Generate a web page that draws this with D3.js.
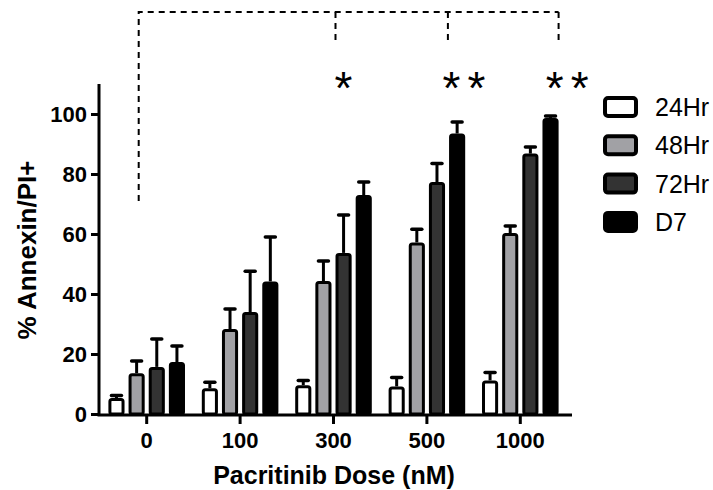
<!DOCTYPE html>
<html><head><meta charset="utf-8">
<script src="https://cdn.jsdelivr.net/npm/d3@7"></script>
<style>
body{margin:0;background:#fff;}
svg{display:block;}
text{font-family:"Liberation Sans",Arial,sans-serif;}
</style></head>
<body><svg id="c" width="713" height="490"></svg>
<script>
const doses = ["0","100","300","500","1000"];
const series = ["24Hr","48Hr","72Hr","D7"];
const colors = ["#ffffff","#a1a1a5","#333333","#000000"];
const v24 = [5.3, 8.6, 9.6, 9.2, 11.2];
const e24 = [6.2, 10.6, 11.2, 12.2, 13.8];
const v48 = [13.6, 28.3, 44.3, 57.2, 60.3];
const e48 = [17.7, 35.0, 51.0, 61.6, 62.7];
const v72 = [15.7, 34.0, 53.7, 77.3, 86.8];
const e72 = [25.0, 47.6, 66.3, 83.5, 89.0];
const vD7 = [17.3, 44.2, 73.0, 93.5, 98.7];
const eD7 = [22.7, 59.0, 77.3, 97.3, 99.3];
const yTicks = [0,20,40,60,80,100];
const sigLabels = [{dose:"300", text:"*"},{dose:"500", text:"**"},{dose:"1000", text:"**"}];

const vals = [v24,v48,v72,vD7], errs=[e24,e48,e72,eD7];
const svg = d3.select("#c");
const x0 = d3.scaleBand().domain(doses).range([100,567]).paddingInner(0.18).paddingOuter(0.09);
const x1 = d3.scaleBand().domain(series).range([0,x0.bandwidth()]).paddingInner(0.2);
const y = d3.scaleLinear().domain([0,100]).range([414,114]);

// bars
const g = svg.append("g");
doses.forEach((d,i)=>{
  series.forEach((s,j)=>{
    const bx = x0(d)+x1(s), bw = x1.bandwidth(), cx = bx+bw/2;
    g.append("line").attr("x1",cx).attr("x2",cx).attr("y1",y(vals[j][i])).attr("y2",y(errs[j][i]))
      .attr("stroke","#000").attr("stroke-width",3);
    g.append("line").attr("x1",cx-5).attr("x2",cx+5).attr("y1",y(errs[j][i])).attr("y2",y(errs[j][i]))
      .attr("stroke","#000").attr("stroke-width",3.5).attr("stroke-linecap","round");
    g.append("rect").attr("x",bx+1.5).attr("y",y(vals[j][i])+1.5).attr("width",bw-3)
      .attr("height",Math.max(0,y(0)-y(vals[j][i])-1.5)).attr("rx",2)
      .attr("fill",colors[j]).attr("stroke","#000").attr("stroke-width",3);
  });
});

// y axis
const ya = svg.append("g").attr("transform","translate(99,0)")
  .call(d3.axisLeft(y).tickValues(yTicks).tickSize(8).tickPadding(4));
ya.select(".domain").remove();
ya.selectAll(".tick line").attr("stroke","#000").attr("stroke-width",3);
ya.selectAll(".tick text").attr("font-size",22).attr("font-weight","bold").attr("fill","#000").attr("dy","0.36em");
svg.append("line").attr("x1",99).attr("x2",99).attr("y1",y(110)).attr("y2",y(0)+1.5)
  .attr("stroke","#000").attr("stroke-width",3);

// x axis
const xa = svg.append("g").attr("transform","translate(0,415)")
  .call(d3.axisBottom(x0).tickSize(9).tickPadding(8));
xa.select(".domain").remove();
xa.selectAll(".tick line").attr("stroke","#000").attr("stroke-width",3);
xa.selectAll(".tick text").attr("font-size",22).attr("font-weight","bold").attr("fill","#000");
svg.append("line").attr("x1",97.5).attr("x2",572).attr("y1",415).attr("y2",415)
  .attr("stroke","#000").attr("stroke-width",3);

// axis titles
svg.append("text").attr("transform","translate(36,250) rotate(-90)").attr("text-anchor","middle")
  .attr("font-size",26).attr("font-weight","bold").attr("fill","#000").text("% Annexin/PI+");
svg.append("text").attr("x",334).attr("y",484).attr("text-anchor","middle")
  .attr("font-size",25).attr("font-weight","bold").attr("fill","#000").text("Pacritinib Dose (nM)");

// significance bracket
const cxOf = d => x0(d)+x0.bandwidth()/2;
const xl = cxOf("0")-8, xa3 = cxOf("300")+2, xa5 = cxOf("500")+21, xa10 = x0("1000")+x0.bandwidth();
const yTop = y(134), yDrop = y(123), yLeft = y(71);
const dash = {"stroke":"#000","stroke-width":2,"stroke-dasharray":"6,5","fill":"none"};
const pth = (dstr)=>{const p=svg.append("path").attr("d",dstr); Object.entries(dash).forEach(([k,v])=>p.attr(k,v));};
pth(`M${xl},${yLeft}V${yTop}H${xa10}`);
pth(`M${xa3},${yTop}V${yDrop}`);
pth(`M${xa5},${yTop}V${yDrop}`);
pth(`M${xa10},${yTop}V${yDrop}`);

// asterisks: one glyph each, 25px apart
const sigOff = {"300":10,"500":37,"1000":47};
sigLabels.forEach(s=>{
  const n = s.text.length;
  for(let k=0;k<n;k++){
    svg.append("text").attr("x",cxOf(s.dose)+sigOff[s.dose]+(k-(n-1)/2)*25).attr("y",104)
      .attr("text-anchor","middle").attr("font-size",46).attr("fill","#000")
      .text(s.text[k]);
  }
});

// legend
const lg = svg.append("g").attr("transform","translate(603,96)");
series.forEach((s,j)=>{
  const r = lg.append("g").attr("transform",`translate(0,${j*38.3})`);
  r.append("rect").attr("x",2).attr("y",2).attr("width",31).attr("height",18).attr("rx",3)
    .attr("fill",colors[j]).attr("stroke","#000").attr("stroke-width",4);
  r.append("text").attr("x",52).attr("y",11).attr("dy","0.36em").attr("font-size",25)
    .attr("fill","#000").text(s);
});
</script></body></html>
